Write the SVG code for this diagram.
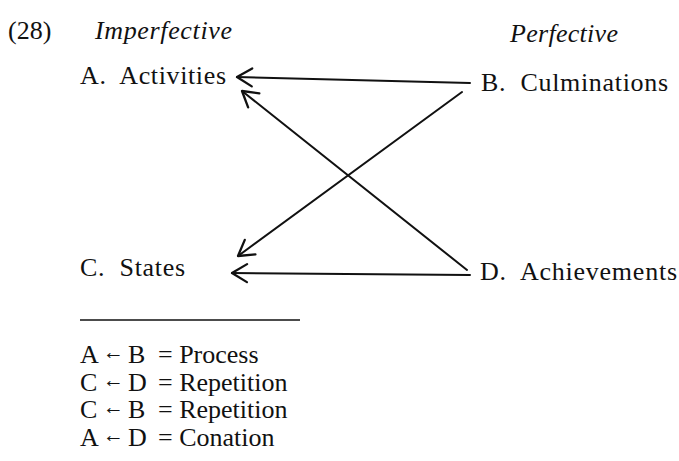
<svg xmlns="http://www.w3.org/2000/svg" width="679" height="461" viewBox="0 0 679 461">
  <style>
    text { font-family: "Liberation Serif", "Times New Roman", serif; fill: #111; font-size: 26px; }
    .hd { font-style: italic; }
    .k { font-size: 26px; }
    .arr { font-size: 21px; }
    .edge { fill: none; stroke: #111; stroke-width: 2; stroke-linecap: round; stroke-linejoin: round; }
    .rule { stroke: #111; stroke-width: 1.3; }
  </style>
  <defs>
    <marker id="open" viewBox="-18 -11 22 22" markerWidth="22" markerHeight="22" refX="0" refY="0" orient="auto" markerUnits="userSpaceOnUse">
      <path d="M-15,-9 L0,0 L-15,9" fill="none" stroke="#111" stroke-width="2.3" stroke-linecap="round" stroke-linejoin="round"/>
    </marker>
  </defs>

  <rect width="679" height="461" fill="#fff"/>

  <!-- example number and column headings -->
  <text x="8" y="39">(28)</text>
  <text class="hd" x="95" y="39" textLength="137" lengthAdjust="spacing">Imperfective</text>
  <text class="hd" x="510" y="42" textLength="108" lengthAdjust="spacing">Perfective</text>

  <!-- aspect classes -->
  <g id="nodeA"><text x="80" y="84" xml:space="preserve" textLength="146" lengthAdjust="spacing">A.  Activities</text></g>
  <g id="nodeB"><text x="481" y="91" xml:space="preserve" textLength="187" lengthAdjust="spacing">B.  Culminations</text></g>
  <g id="nodeC"><text x="80" y="276" xml:space="preserve" textLength="105" lengthAdjust="spacing">C.  States</text></g>
  <g id="nodeD"><text x="480" y="280" xml:space="preserve" textLength="197" lengthAdjust="spacing">D.  Achievements</text></g>

  <!-- derivation arrows -->
  <g id="connectors">
    <line class="edge" x1="470" y1="83" x2="237" y2="77" marker-end="url(#open)"/>
    <line class="edge" x1="467" y1="270" x2="242" y2="91" marker-end="url(#open)"/>
    <line class="edge" x1="462" y1="92" x2="238" y2="256" marker-end="url(#open)"/>
    <line class="edge" x1="470" y1="275" x2="232" y2="273" marker-end="url(#open)"/>
  </g>

  <line class="rule" x1="80" y1="320" x2="300" y2="320"/>

  <!-- key -->
  <g id="key">
    <text class="k" x="80" y="363">A</text><text class="arr" x="103" y="359">←</text><text class="k" x="128" y="363">B</text><text class="k" x="158" y="363">= Process</text>
    <text class="k" x="80" y="391">C</text><text class="arr" x="103" y="387">←</text><text class="k" x="128" y="391">D</text><text class="k" x="158" y="391">= Repetition</text>
    <text class="k" x="80" y="418">C</text><text class="arr" x="103" y="414">←</text><text class="k" x="128" y="418">B</text><text class="k" x="158" y="418">= Repetition</text>
    <text class="k" x="80" y="446">A</text><text class="arr" x="103" y="442">←</text><text class="k" x="128" y="446">D</text><text class="k" x="158" y="446">= Conation</text>
  </g>
</svg>
